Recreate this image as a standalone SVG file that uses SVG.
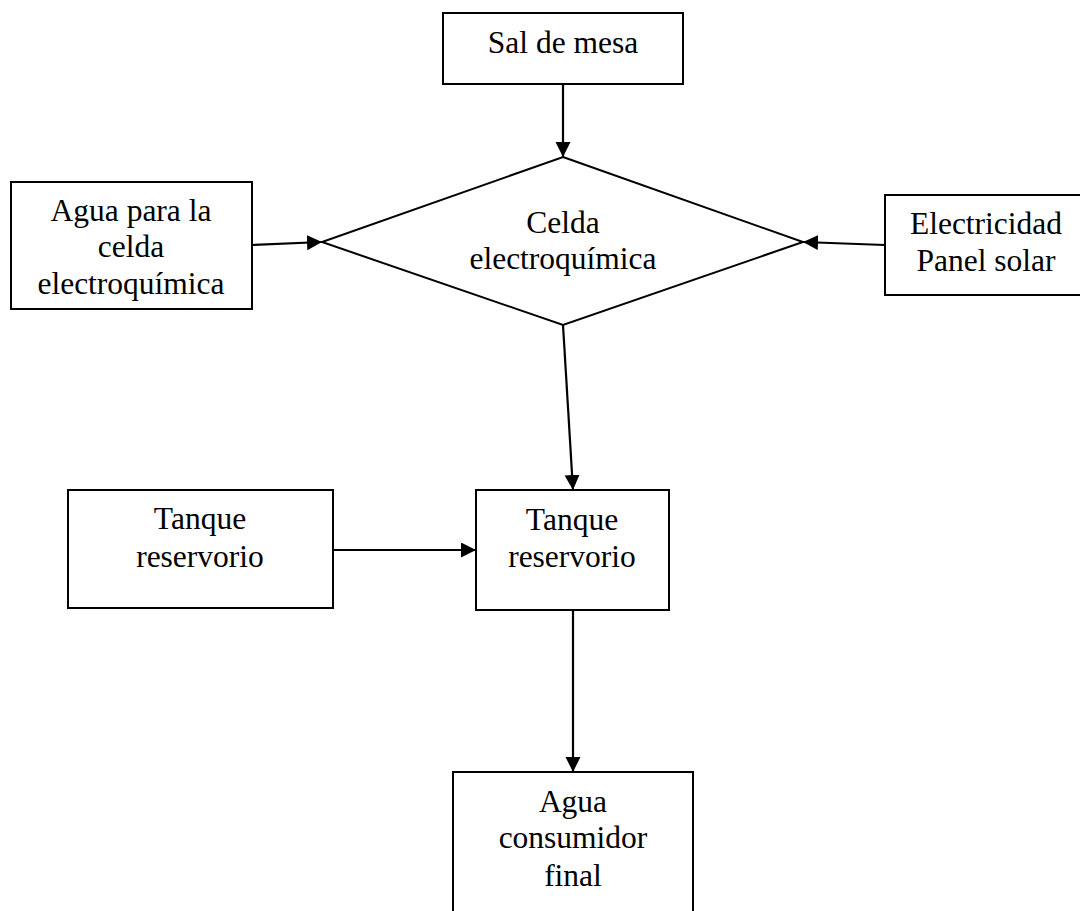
<svg xmlns="http://www.w3.org/2000/svg" width="1080" height="911" viewBox="0 0 1080 911">
<style>
.box{fill:#fff;stroke:#000;stroke-width:2}
.t{font-family:"Liberation Serif","Times New Roman",serif;font-size:31.5px;fill:#000;text-anchor:middle}
.c{fill:none;stroke:#000;stroke-width:2.2}
</style>
<defs>
<marker id="ah" markerUnits="userSpaceOnUse" markerWidth="16" markerHeight="16" refX="15" refY="7.5" orient="auto">
<path d="M0,0 L15,7.5 L0,15 z" fill="#000"/>
</marker>
</defs>
<rect width="1080" height="911" fill="#fff"/>
<g id="sal">
<rect class="box" x="443" y="13" width="240" height="71"/>
<text class="t" x="563" y="53">Sal de mesa</text>
</g>
<g id="celda">
<polygon class="box" points="563,157 803,242 563,325 322,242"/>
<text class="t" x="563" y="233">Celda</text>
<text class="t" x="563" y="269">electroquímica</text>
</g>
<g id="agua-celda">
<rect class="box" x="11" y="182" width="241" height="127"/>
<text class="t" x="131" y="221">Agua para la</text>
<text class="t" x="131" y="257">celda</text>
<text class="t" x="131" y="294">electroquímica</text>
</g>
<g id="electricidad">
<rect class="box" x="885" y="195" width="205" height="100"/>
<text class="t" x="986" y="234">Electricidad</text>
<text class="t" x="986" y="271">Panel solar</text>
</g>
<g id="tanque-izq">
<rect class="box" x="68" y="490" width="265" height="118"/>
<text class="t" x="200" y="529">Tanque</text>
<text class="t" x="200" y="567">reservorio</text>
</g>
<g id="tanque-centro">
<rect class="box" x="476" y="490" width="193" height="120"/>
<text class="t" x="572" y="530">Tanque</text>
<text class="t" x="572" y="567">reservorio</text>
</g>
<g id="consumidor">
<rect class="box" x="453" y="772" width="240" height="150"/>
<text class="t" x="573" y="812">Agua</text>
<text class="t" x="573" y="848">consumidor</text>
<text class="t" x="573" y="886">final</text>
</g>
<g id="connectors">
<line class="c" x1="563" y1="84" x2="563" y2="157" marker-end="url(#ah)"/>
<line class="c" x1="252" y1="245" x2="322" y2="242" marker-end="url(#ah)"/>
<line class="c" x1="885" y1="245" x2="803" y2="242" marker-end="url(#ah)"/>
<line class="c" x1="563" y1="325" x2="573" y2="490" marker-end="url(#ah)"/>
<line class="c" x1="333" y1="550" x2="476" y2="550" marker-end="url(#ah)"/>
<line class="c" x1="573" y1="610" x2="573" y2="772" marker-end="url(#ah)"/>
</g>
</svg>
